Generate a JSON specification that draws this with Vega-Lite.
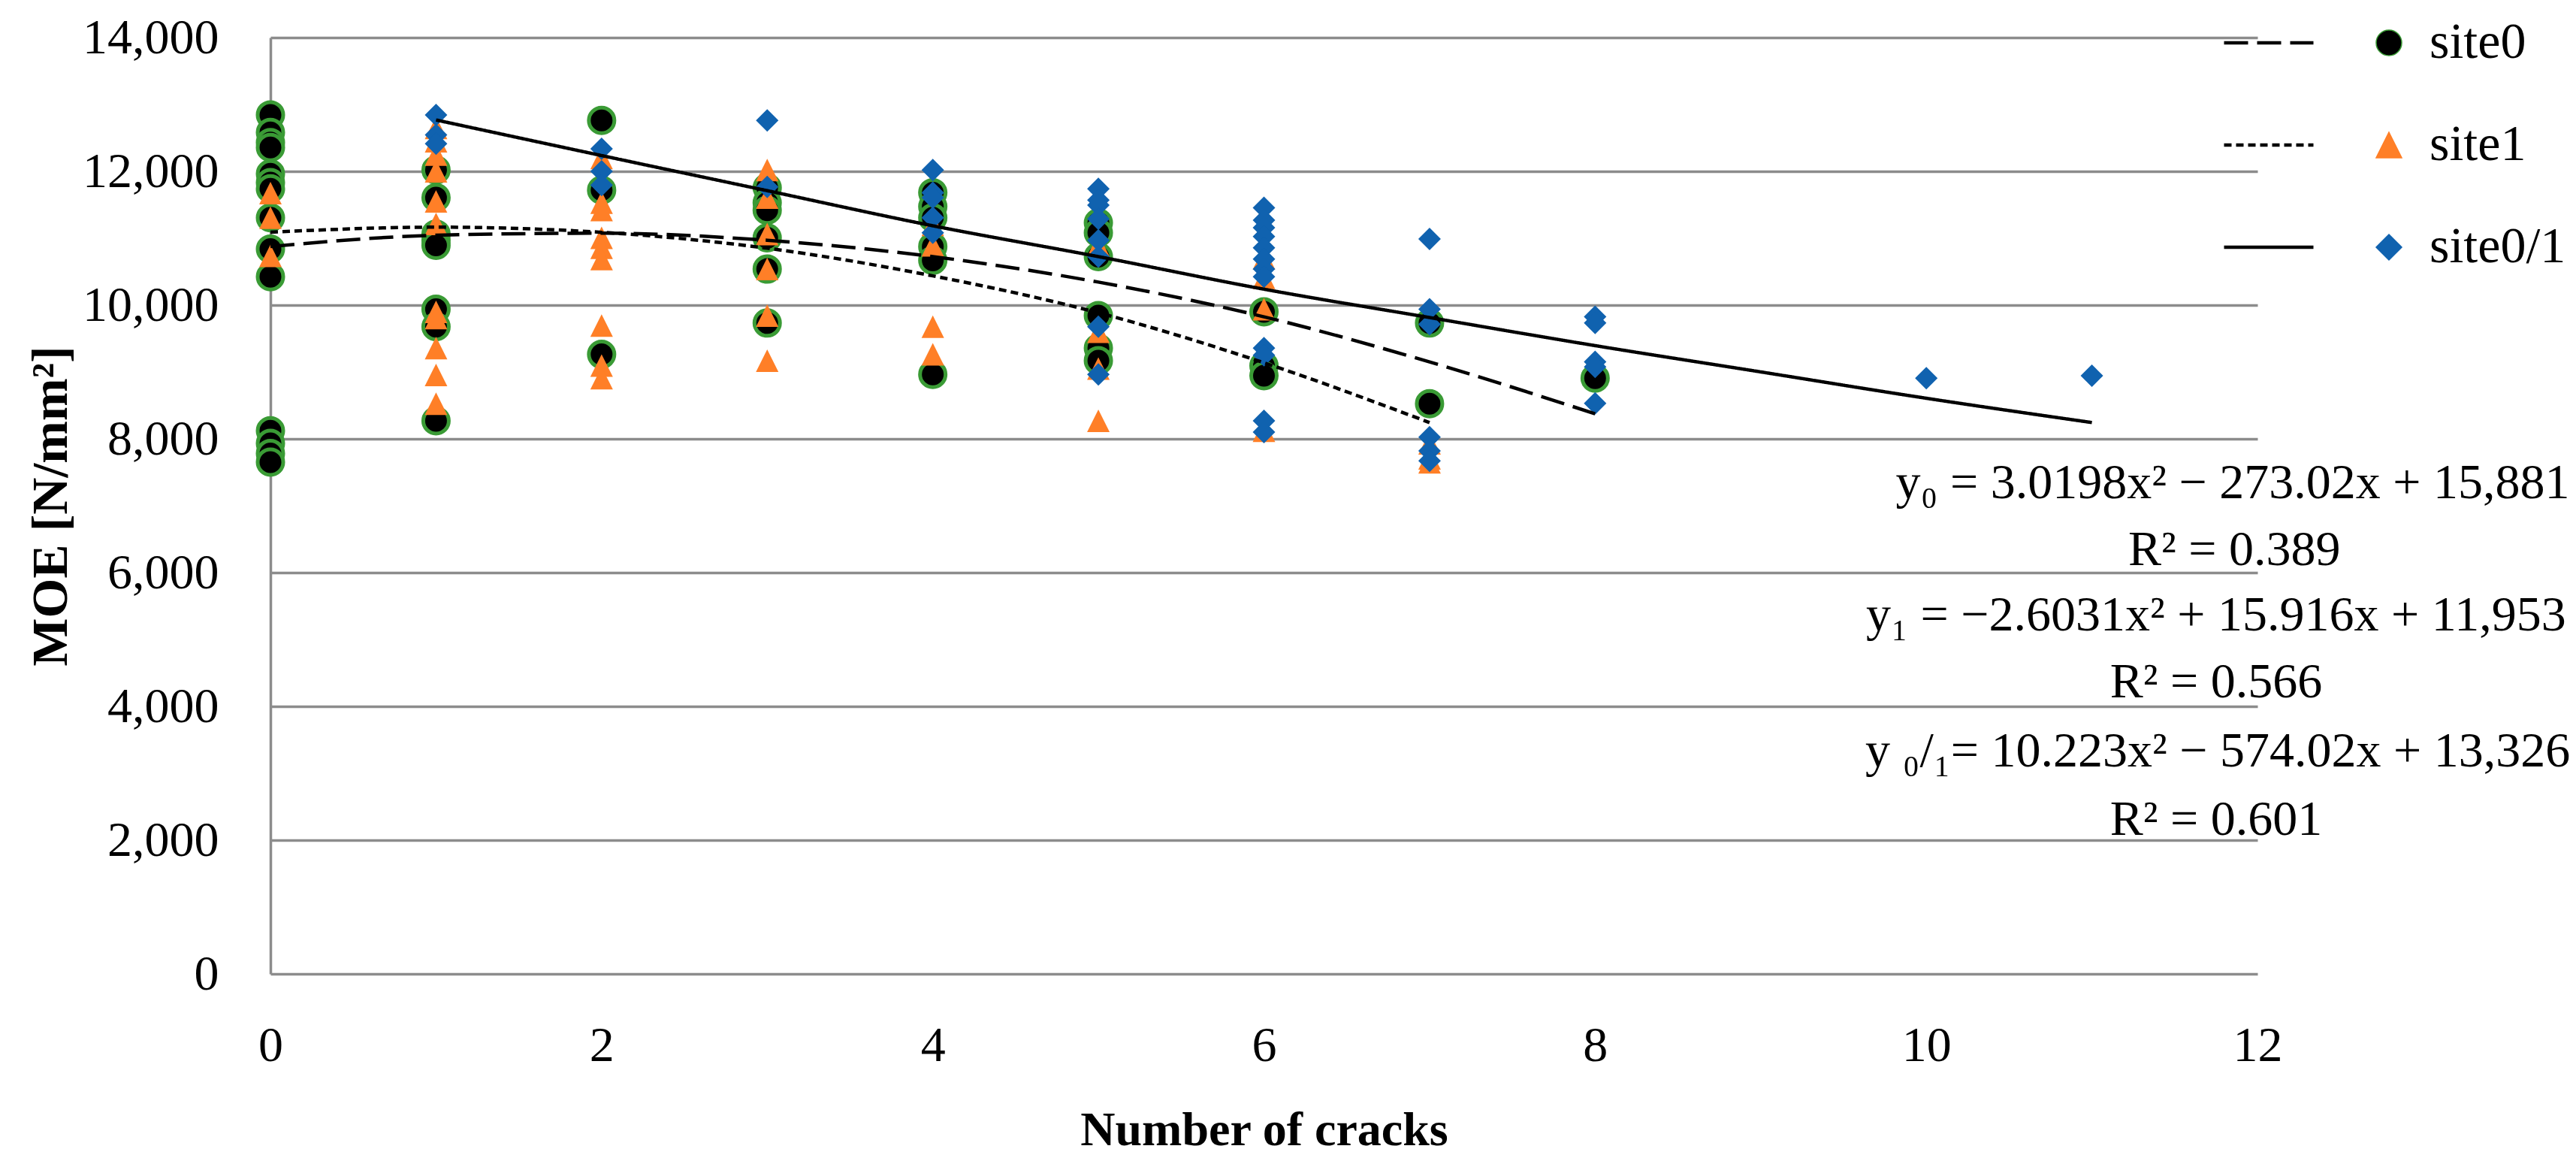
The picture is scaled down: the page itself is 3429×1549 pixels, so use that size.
{
  "$schema": "https://vega.github.io/schema/vega-lite/v6.json",
  "width": 2645,
  "height": 1246,
  "autosize": {"type": "none"},
  "padding": {"left": 360, "top": 50, "right": 424, "bottom": 253},
  "background": "white",
  "config": {"view": {"stroke": null}, "font": "Liberation Serif"},
  "datasets": {
    "points": [
      {"cracks":0,"moe":12844,"site":"site0"},{"cracks":0,"moe":12581,"site":"site0"},{"cracks":0,"moe":12431,"site":"site0"},{"cracks":0,"moe":12356,"site":"site0"},{"cracks":0,"moe":11963,"site":"site0"},{"cracks":0,"moe":11831,"site":"site0"},{"cracks":0,"moe":11738,"site":"site0"},{"cracks":0,"moe":11306,"site":"site0"},{"cracks":0,"moe":10838,"site":"site0"},{"cracks":0,"moe":10425,"site":"site0"},{"cracks":0,"moe":8120,"site":"site0"},{"cracks":0,"moe":7932,"site":"site0"},{"cracks":0,"moe":7782,"site":"site0"},{"cracks":0,"moe":7651,"site":"site0"},
      {"cracks":1,"moe":12019,"site":"site0"},{"cracks":1,"moe":11606,"site":"site0"},{"cracks":1,"moe":11063,"site":"site0"},{"cracks":1,"moe":10969,"site":"site0"},{"cracks":1,"moe":10894,"site":"site0"},{"cracks":1,"moe":9938,"site":"site0"},{"cracks":1,"moe":9676,"site":"site0"},{"cracks":1,"moe":8270,"site":"site0"},
      {"cracks":2,"moe":12761,"site":"site0"},{"cracks":2,"moe":11719,"site":"site0"},{"cracks":2,"moe":9263,"site":"site0"},
      {"cracks":3,"moe":11756,"site":"site0"},{"cracks":3,"moe":11531,"site":"site0"},{"cracks":3,"moe":11419,"site":"site0"},{"cracks":3,"moe":11006,"site":"site0"},{"cracks":3,"moe":10538,"site":"site0"},{"cracks":3,"moe":9732,"site":"site0"},
      {"cracks":4,"moe":11681,"site":"site0"},{"cracks":4,"moe":11475,"site":"site0"},{"cracks":4,"moe":11306,"site":"site0"},{"cracks":4,"moe":10875,"site":"site0"},{"cracks":4,"moe":10669,"site":"site0"},{"cracks":4,"moe":8963,"site":"site0"},
      {"cracks":5,"moe":11231,"site":"site0"},{"cracks":5,"moe":11081,"site":"site0"},{"cracks":5,"moe":10725,"site":"site0"},{"cracks":5,"moe":9844,"site":"site0"},{"cracks":5,"moe":9357,"site":"site0"},{"cracks":5,"moe":9169,"site":"site0"},
      {"cracks":6,"moe":9900,"site":"site0"},{"cracks":6,"moe":9094,"site":"site0"},{"cracks":6,"moe":8944,"site":"site0"},
      {"cracks":7,"moe":9732,"site":"site0"},{"cracks":7,"moe":8525,"site":"site0"},
      {"cracks":8,"moe":8907,"site":"site0"},
      {"cracks":0,"moe":11674,"site":"site1"},{"cracks":0,"moe":11306,"site":"site1"},{"cracks":0,"moe":10737,"site":"site1"},
      {"cracks":1,"moe":12650,"site":"site1"},{"cracks":1,"moe":12450,"site":"site1"},{"cracks":1,"moe":12250,"site":"site1"},{"cracks":1,"moe":12000,"site":"site1"},{"cracks":1,"moe":11550,"site":"site1"},{"cracks":1,"moe":11213,"site":"site1"},{"cracks":1,"moe":9900,"site":"site1"},{"cracks":1,"moe":9807,"site":"site1"},{"cracks":1,"moe":9357,"site":"site1"},{"cracks":1,"moe":8956,"site":"site1"},{"cracks":1,"moe":8525,"site":"site1"},
      {"cracks":2,"moe":12200,"site":"site1"},{"cracks":2,"moe":11531,"site":"site1"},{"cracks":2,"moe":11420,"site":"site1"},{"cracks":2,"moe":11006,"site":"site1"},{"cracks":2,"moe":10856,"site":"site1"},{"cracks":2,"moe":10688,"site":"site1"},{"cracks":2,"moe":9694,"site":"site1"},{"cracks":2,"moe":9095,"site":"site1"},{"cracks":2,"moe":8907,"site":"site1"},
      {"cracks":3,"moe":12019,"site":"site1"},{"cracks":3,"moe":11606,"site":"site1"},{"cracks":3,"moe":11063,"site":"site1"},{"cracks":3,"moe":10538,"site":"site1"},{"cracks":3,"moe":9844,"site":"site1"},{"cracks":3,"moe":9169,"site":"site1"},
      {"cracks":4,"moe":11200,"site":"site1"},{"cracks":4,"moe":10894,"site":"site1"},{"cracks":4,"moe":9676,"site":"site1"},{"cracks":4,"moe":9263,"site":"site1"},
      {"cracks":5,"moe":10894,"site":"site1"},{"cracks":5,"moe":9600,"site":"site1"},{"cracks":5,"moe":9050,"site":"site1"},{"cracks":5,"moe":8270,"site":"site1"},
      {"cracks":6,"moe":10700,"site":"site1"},{"cracks":6,"moe":10407,"site":"site1"},{"cracks":6,"moe":9938,"site":"site1"},{"cracks":6,"moe":8120,"site":"site1"},
      {"cracks":7,"moe":7932,"site":"site1"},{"cracks":7,"moe":7707,"site":"site1"},{"cracks":7,"moe":7650,"site":"site1"},
      {"cracks":1,"moe":12844,"site":"site0/1"},{"cracks":1,"moe":12544,"site":"site0/1"},{"cracks":1,"moe":12412,"site":"site0/1"},
      {"cracks":2,"moe":12337,"site":"site0/1"},{"cracks":2,"moe":12000,"site":"site0/1"},{"cracks":2,"moe":11794,"site":"site0/1"},
      {"cracks":3,"moe":12761,"site":"site0/1"},{"cracks":3,"moe":11768,"site":"site0/1"},
      {"cracks":4,"moe":12019,"site":"site0/1"},{"cracks":4,"moe":11681,"site":"site0/1"},{"cracks":4,"moe":11606,"site":"site0/1"},{"cracks":4,"moe":11306,"site":"site0/1"},{"cracks":4,"moe":11081,"site":"site0/1"},
      {"cracks":5,"moe":11738,"site":"site0/1"},{"cracks":5,"moe":11569,"site":"site0/1"},{"cracks":5,"moe":11494,"site":"site0/1"},{"cracks":5,"moe":11288,"site":"site0/1"},{"cracks":5,"moe":10969,"site":"site0/1"},{"cracks":5,"moe":10725,"site":"site0/1"},{"cracks":5,"moe":9676,"site":"site0/1"},{"cracks":5,"moe":8963,"site":"site0/1"},
      {"cracks":6,"moe":11456,"site":"site0/1"},{"cracks":6,"moe":11269,"site":"site0/1"},{"cracks":6,"moe":11156,"site":"site0/1"},{"cracks":6,"moe":11025,"site":"site0/1"},{"cracks":6,"moe":10856,"site":"site0/1"},{"cracks":6,"moe":10688,"site":"site0/1"},{"cracks":6,"moe":10538,"site":"site0/1"},{"cracks":6,"moe":10425,"site":"site0/1"},{"cracks":6,"moe":9357,"site":"site0/1"},{"cracks":6,"moe":9250,"site":"site0/1"},{"cracks":6,"moe":8270,"site":"site0/1"},{"cracks":6,"moe":8101,"site":"site0/1"},
      {"cracks":7,"moe":10988,"site":"site0/1"},{"cracks":7,"moe":9938,"site":"site0/1"},{"cracks":7,"moe":9713,"site":"site0/1"},{"cracks":7,"moe":8026,"site":"site0/1"},{"cracks":7,"moe":7820,"site":"site0/1"},{"cracks":7,"moe":7670,"site":"site0/1"},
      {"cracks":8,"moe":9826,"site":"site0/1"},{"cracks":8,"moe":9732,"site":"site0/1"},{"cracks":8,"moe":9151,"site":"site0/1"},{"cracks":8,"moe":9076,"site":"site0/1"},{"cracks":8,"moe":8532,"site":"site0/1"},
      {"cracks":10,"moe":8907,"site":"site0/1"},
      {"cracks":11,"moe":8944,"site":"site0/1"}
    ],
    "fits": [
      {"cracks":0,"moe":10875,"fit":"fit0"},{"cracks":1,"moe":11044,"fit":"fit0"},{"cracks":2,"moe":11075,"fit":"fit0"},{"cracks":3,"moe":10969,"fit":"fit0"},{"cracks":4,"moe":10725,"fit":"fit0"},{"cracks":5,"moe":10344,"fit":"fit0"},{"cracks":6,"moe":9825,"fit":"fit0"},{"cracks":7,"moe":9150,"fit":"fit0"},{"cracks":8,"moe":8375,"fit":"fit0"},
      {"cracks":0,"moe":11090,"fit":"fit1"},{"cracks":1,"moe":11165,"fit":"fit1"},{"cracks":2,"moe":11088,"fit":"fit1"},{"cracks":3,"moe":10850,"fit":"fit1"},{"cracks":4,"moe":10437,"fit":"fit1"},{"cracks":5,"moe":9885,"fit":"fit1"},{"cracks":6,"moe":9137,"fit":"fit1"},{"cracks":7,"moe":8244,"fit":"fit1"},
      {"cracks":1,"moe":12768,"fit":"fit01"},{"cracks":2,"moe":12236,"fit":"fit01"},{"cracks":3,"moe":11711,"fit":"fit01"},{"cracks":4,"moe":11186,"fit":"fit01"},{"cracks":5,"moe":10725,"fit":"fit01"},{"cracks":6,"moe":10238,"fit":"fit01"},{"cracks":7,"moe":9814,"fit":"fit01"},{"cracks":8,"moe":9394,"fit":"fit01"},{"cracks":9,"moe":9001,"fit":"fit01"},{"cracks":10,"moe":8607,"fit":"fit01"},{"cracks":11,"moe":8244,"fit":"fit01"}
    ],
    "notes": [
      {"note": "y₀ = 3.0198x² − 273.02x + 15,881"},
      {"note": "R² = 0.389"},
      {"note": "y₁ = −2.6031x² + 15.916x + 11,953"},
      {"note": "R² = 0.566"},
      {"note": "y ₀/₁= 10.223x² − 574.02x + 13,326"},
      {"note": "R² = 0.601"}
    ]
  },
  "layer": [
    {
      "data": {"name": "points"},
      "mark": {"type": "point", "filled": true, "opacity": 1},
      "encoding": {
        "x": {
          "field": "cracks",
          "type": "quantitative",
          "scale": {"domain": [0, 12], "nice": false, "zero": false},
          "axis": {
            "values": [0, 2, 4, 6, 8, 10, 12],
            "format": "d",
            "title": "Number of cracks",
            "titleFont": "Liberation Serif", "titleFontSize": 64, "titleFontWeight": "bold", "titleColor": "black", "titlePadding": 48,
            "labelFont": "Liberation Serif", "labelFontSize": 66, "labelColor": "black", "labelPadding": 63, "labelFlush": false, "labelLimit": 0,
            "ticks": false, "domain": false, "grid": false
          }
        },
        "y": {
          "field": "moe",
          "type": "quantitative",
          "scale": {"domain": [0, 14000], "nice": false},
          "axis": {
            "values": [0, 2000, 4000, 6000, 8000, 10000, 12000, 14000],
            "format": ",d",
            "title": "MOE [N/mm²]",
            "titleFont": "Liberation Serif", "titleFontSize": 68, "titleFontWeight": "bold", "titleColor": "black", "titlePadding": 58,
            "labelFont": "Liberation Serif", "labelFontSize": 66, "labelColor": "black", "labelPadding": 69, "labelLimit": 0,
            "ticks": false, "domain": true, "domainColor": "#8c8c8c", "domainWidth": 3.5,
            "grid": true, "gridColor": "#8c8c8c", "gridWidth": 3.5, "gridOpacity": 1
          }
        },
        "shape": {
          "field": "site", "type": "nominal",
          "scale": {"domain": ["site0", "site1", "site0/1"], "range": ["circle", "M0,-1L1,1L-1,1Z", "diamond"]},
          "legend": {
            "title": null, "orient": "none", "legendX": 2786, "legendY": -28, "padding": 0,
            "clipHeight": 70, "rowPadding": 66, "symbolSize": 1156, "labelOffset": 20, "labelLimit": 0,
            "labelFont": "Liberation Serif", "labelFontSize": 68, "labelColor": "black",
            "encode": {"symbols": {"update": {
              "size": {"signal": "datum.value === 'site0' ? 1156 : 900"},
              "strokeWidth": {"signal": "datum.value === 'site0' ? 5 : 0"}
            }}}
          }
        },
        "fill": {
          "field": "site", "type": "nominal",
          "scale": {"domain": ["site0", "site1", "site0/1"], "range": ["#000000", "#FF7F27", "#1062AF"]}
        },
        "stroke": {
          "field": "site", "type": "nominal",
          "scale": {"domain": ["site0", "site1", "site0/1"], "range": ["#3A9B35", "#FF7F27", "#1062AF"]}
        },
        "size": {"condition": {"test": "datum.site === 'site0'", "value": 1156}, "value": 900},
        "strokeWidth": {"condition": {"test": "datum.site === 'site0'", "value": 5}, "value": 0}
      }
    },
    {
      "data": {"name": "fits"},
      "mark": {"type": "line", "color": "black", "strokeWidth": 4.5, "interpolate": "monotone"},
      "encoding": {
        "x": {"field": "cracks", "type": "quantitative"},
        "y": {"field": "moe", "type": "quantitative"},
        "strokeDash": {
          "field": "fit", "type": "nominal",
          "scale": {"domain": ["fit0", "fit1", "fit01"], "range": [[32, 12], [10, 6], [1, 0]]},
          "legend": {
            "title": null, "orient": "none", "legendX": 2598, "legendY": -28, "padding": 0,
            "clipHeight": 70, "rowPadding": 66, "symbolType": "stroke", "symbolSize": 14161,
            "symbolStrokeWidth": 4.5, "symbolStrokeColor": "black", "labelExpr": "''", "labelOffset": 0
          }
        }
      }
    },
    {
      "data": {"name": "notes"},
      "transform": [{"filter": "datum.note === 'y₀ = 3.0198x² − 273.02x + 15,881'"}],
      "mark": {"type": "text", "font": "Liberation Serif", "fontSize": 66, "align": "center", "baseline": "middle", "color": "black"},
      "encoding": {"text": {"field": "note"}, "x": {"datum": 11.85, "type": "quantitative"}, "y": {"datum": 7337, "type": "quantitative"}}
    },
    {
      "data": {"name": "notes"},
      "transform": [{"filter": "datum.note === 'R² = 0.389'"}],
      "mark": {"type": "text", "font": "Liberation Serif", "fontSize": 66, "align": "center", "baseline": "middle", "color": "black"},
      "encoding": {"text": {"field": "note"}, "x": {"datum": 11.86, "type": "quantitative"}, "y": {"datum": 6337, "type": "quantitative"}}
    },
    {
      "data": {"name": "notes"},
      "transform": [{"filter": "datum.note === 'y₁ = −2.6031x² + 15.916x + 11,953'"}],
      "mark": {"type": "text", "font": "Liberation Serif", "fontSize": 66, "align": "center", "baseline": "middle", "color": "black"},
      "encoding": {"text": {"field": "note"}, "x": {"datum": 11.75, "type": "quantitative"}, "y": {"datum": 5360, "type": "quantitative"}}
    },
    {
      "data": {"name": "notes"},
      "transform": [{"filter": "datum.note === 'R² = 0.566'"}],
      "mark": {"type": "text", "font": "Liberation Serif", "fontSize": 66, "align": "center", "baseline": "middle", "color": "black"},
      "encoding": {"text": {"field": "note"}, "x": {"datum": 11.75, "type": "quantitative"}, "y": {"datum": 4360, "type": "quantitative"}}
    },
    {
      "data": {"name": "notes"},
      "transform": [{"filter": "datum.note === 'y ₀/₁= 10.223x² − 574.02x + 13,326'"}],
      "mark": {"type": "text", "font": "Liberation Serif", "fontSize": 66, "align": "center", "baseline": "middle", "color": "black"},
      "encoding": {"text": {"field": "note"}, "x": {"datum": 11.76, "type": "quantitative"}, "y": {"datum": 3326, "type": "quantitative"}}
    },
    {
      "data": {"name": "notes"},
      "transform": [{"filter": "datum.note === 'R² = 0.601'"}],
      "mark": {"type": "text", "font": "Liberation Serif", "fontSize": 66, "align": "center", "baseline": "middle", "color": "black"},
      "encoding": {"text": {"field": "note"}, "x": {"datum": 11.75, "type": "quantitative"}, "y": {"datum": 2303, "type": "quantitative"}}
    }
  ]
}
